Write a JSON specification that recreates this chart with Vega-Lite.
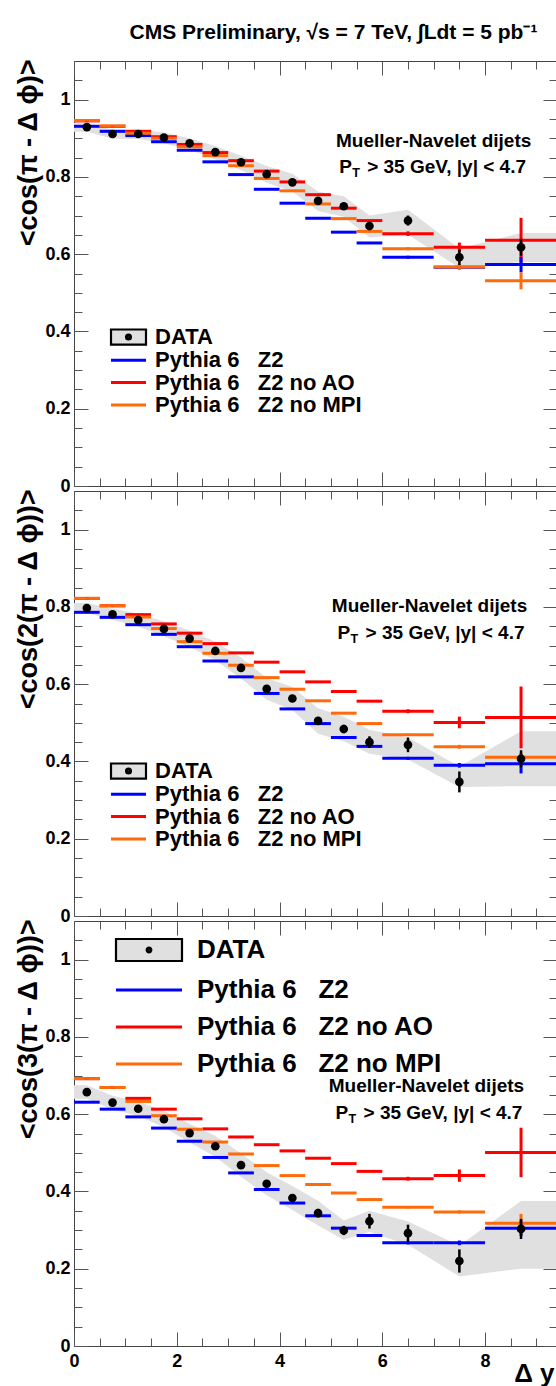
{
  "$schema": "https://vega.github.io/schema/vega-lite/v6.json",
  "padding": {"left": 13, "top": 21, "right": 0, "bottom": 0},
  "background": "white",
  "config": {
    "view": {"stroke": "#444444", "strokeWidth": 1},
    "axis": {"grid": false, "domain": false, "tickColor": "#555555", "tickWidth": 1, "labelFont": "Liberation Sans", "labelFontWeight": "bold", "labelFontSize": 18, "labelColor": "black", "titleFont": "Liberation Sans", "titleFontWeight": "bold", "titleColor": "black", "labelFlush": false},
    "legend": {"labelFont": "Liberation Sans", "labelFontWeight": "bold", "labelColor": "black", "symbolType": "stroke", "padding": 0, "labelLimit": 0}
  },
  "datasets": {
    "band1": [{"x":0,"lo":0.917,"hi":0.940},{"x":0.25,"lo":0.917,"hi":0.940},{"x":0.75,"lo":0.899,"hi":0.922},{"x":1.25,"lo":0.898,"hi":0.923},{"x":1.75,"lo":0.887,"hi":0.915},{"x":2.25,"lo":0.870,"hi":0.900},{"x":2.75,"lo":0.845,"hi":0.880},{"x":3.25,"lo":0.818,"hi":0.855},{"x":3.75,"lo":0.785,"hi":0.828},{"x":4.25,"lo":0.762,"hi":0.808},{"x":4.75,"lo":0.712,"hi":0.762},{"x":5.25,"lo":0.697,"hi":0.750},{"x":5.75,"lo":0.643,"hi":0.700},{"x":6.5,"lo":0.650,"hi":0.715},{"x":7.5,"lo":0.565,"hi":0.615},{"x":8.7,"lo":0.580,"hi":0.655},{"x":9.4,"lo":0.580,"hi":0.655}],
    "band2": [{"x":0,"lo":0.785,"hi":0.810},{"x":0.25,"lo":0.785,"hi":0.810},{"x":0.75,"lo":0.766,"hi":0.796},{"x":1.25,"lo":0.749,"hi":0.783},{"x":1.75,"lo":0.724,"hi":0.762},{"x":2.25,"lo":0.697,"hi":0.739},{"x":2.75,"lo":0.662,"hi":0.710},{"x":3.25,"lo":0.615,"hi":0.669},{"x":3.75,"lo":0.560,"hi":0.616},{"x":4.25,"lo":0.533,"hi":0.593},{"x":4.75,"lo":0.472,"hi":0.538},{"x":5.25,"lo":0.452,"hi":0.516},{"x":5.75,"lo":0.420,"hi":0.482},{"x":6.5,"lo":0.405,"hi":0.462},{"x":7.5,"lo":0.334,"hi":0.387},{"x":8.7,"lo":0.336,"hi":0.478},{"x":9.4,"lo":0.336,"hi":0.478}],
    "band3": [{"x":0,"lo":0.640,"hi":0.675},{"x":0.25,"lo":0.640,"hi":0.675},{"x":0.75,"lo":0.612,"hi":0.648},{"x":1.25,"lo":0.595,"hi":0.633},{"x":1.75,"lo":0.566,"hi":0.608},{"x":2.25,"lo":0.527,"hi":0.575},{"x":2.75,"lo":0.490,"hi":0.544},{"x":3.25,"lo":0.438,"hi":0.498},{"x":3.75,"lo":0.390,"hi":0.450},{"x":4.25,"lo":0.352,"hi":0.414},{"x":4.75,"lo":0.312,"hi":0.376},{"x":5.25,"lo":0.275,"hi":0.325},{"x":5.75,"lo":0.295,"hi":0.350},{"x":6.5,"lo":0.262,"hi":0.322},{"x":7.5,"lo":0.180,"hi":0.260},{"x":8.7,"lo":0.200,"hi":0.375},{"x":9.4,"lo":0.200,"hi":0.375}],
    "data1": [{"x":0.25,"y":0.929,"lo":0.925,"hi":0.933},{"x":0.75,"y":0.911,"lo":0.907,"hi":0.915},{"x":1.25,"y":0.911,"lo":0.907,"hi":0.915},{"x":1.75,"y":0.902,"lo":0.898,"hi":0.906},{"x":2.25,"y":0.887,"lo":0.882,"hi":0.892},{"x":2.75,"y":0.864,"lo":0.859,"hi":0.869},{"x":3.25,"y":0.838,"lo":0.832,"hi":0.844},{"x":3.75,"y":0.807,"lo":0.801,"hi":0.813},{"x":4.25,"y":0.786,"lo":0.779,"hi":0.793},{"x":4.75,"y":0.738,"lo":0.730,"hi":0.746},{"x":5.25,"y":0.724,"lo":0.715,"hi":0.733},{"x":5.75,"y":0.673,"lo":0.662,"hi":0.684},{"x":6.5,"y":0.687,"lo":0.674,"hi":0.700},{"x":7.5,"y":0.592,"lo":0.572,"hi":0.612},{"x":8.7,"y":0.618,"lo":0.596,"hi":0.640}],
    "data2": [{"x":0.25,"y":0.797,"lo":0.793,"hi":0.801},{"x":0.75,"y":0.781,"lo":0.777,"hi":0.785},{"x":1.25,"y":0.766,"lo":0.761,"hi":0.771},{"x":1.75,"y":0.743,"lo":0.738,"hi":0.748},{"x":2.25,"y":0.718,"lo":0.712,"hi":0.724},{"x":2.75,"y":0.686,"lo":0.680,"hi":0.692},{"x":3.25,"y":0.642,"lo":0.635,"hi":0.649},{"x":3.75,"y":0.588,"lo":0.580,"hi":0.596},{"x":4.25,"y":0.563,"lo":0.554,"hi":0.572},{"x":4.75,"y":0.505,"lo":0.495,"hi":0.515},{"x":5.25,"y":0.484,"lo":0.473,"hi":0.495},{"x":5.75,"y":0.450,"lo":0.435,"hi":0.465},{"x":6.5,"y":0.443,"lo":0.424,"hi":0.462},{"x":7.5,"y":0.347,"lo":0.320,"hi":0.374},{"x":8.7,"y":0.407,"lo":0.385,"hi":0.429}],
    "data3": [{"x":0.25,"y":0.657,"lo":0.652,"hi":0.662},{"x":0.75,"y":0.630,"lo":0.625,"hi":0.635},{"x":1.25,"y":0.614,"lo":0.609,"hi":0.619},{"x":1.75,"y":0.587,"lo":0.581,"hi":0.593},{"x":2.25,"y":0.551,"lo":0.545,"hi":0.557},{"x":2.75,"y":0.517,"lo":0.510,"hi":0.524},{"x":3.25,"y":0.468,"lo":0.460,"hi":0.476},{"x":3.75,"y":0.420,"lo":0.411,"hi":0.429},{"x":4.25,"y":0.383,"lo":0.373,"hi":0.393},{"x":4.75,"y":0.344,"lo":0.333,"hi":0.355},{"x":5.25,"y":0.299,"lo":0.287,"hi":0.311},{"x":5.75,"y":0.323,"lo":0.304,"hi":0.342},{"x":6.5,"y":0.292,"lo":0.270,"hi":0.314},{"x":7.5,"y":0.220,"lo":0.190,"hi":0.250},{"x":8.7,"y":0.303,"lo":0.277,"hi":0.329}],
    "mc1": [
      {"m":"noAO","a":0,"b":0.5,"c":0.25,"y":0.945,"lo":0.943,"hi":0.947},{"m":"noAO","a":0.5,"b":1,"c":0.75,"y":0.931,"lo":0.929,"hi":0.933},{"m":"noAO","a":1,"b":1.5,"c":1.25,"y":0.918,"lo":0.916,"hi":0.920},{"m":"noAO","a":1.5,"b":2,"c":1.75,"y":0.904,"lo":0.902,"hi":0.906},{"m":"noAO","a":2,"b":2.5,"c":2.25,"y":0.884,"lo":0.882,"hi":0.886},{"m":"noAO","a":2.5,"b":3,"c":2.75,"y":0.863,"lo":0.861,"hi":0.865},{"m":"noAO","a":3,"b":3.5,"c":3.25,"y":0.842,"lo":0.840,"hi":0.844},{"m":"noAO","a":3.5,"b":4,"c":3.75,"y":0.815,"lo":0.813,"hi":0.817},{"m":"noAO","a":4,"b":4.5,"c":4.25,"y":0.787,"lo":0.785,"hi":0.789},{"m":"noAO","a":4.5,"b":5,"c":4.75,"y":0.754,"lo":0.752,"hi":0.756},{"m":"noAO","a":5,"b":5.5,"c":5.25,"y":0.719,"lo":0.717,"hi":0.721},{"m":"noAO","a":5.5,"b":6,"c":5.75,"y":0.687,"lo":0.685,"hi":0.689},{"m":"noAO","a":6,"b":7,"c":6.5,"y":0.653,"lo":0.647,"hi":0.659},{"m":"noAO","a":7,"b":8,"c":7.5,"y":0.618,"lo":0.606,"hi":0.630},{"m":"noAO","a":8,"b":9.4,"c":8.7,"y":0.636,"lo":0.578,"hi":0.694},
      {"m":"Z2","a":0,"b":0.5,"c":0.25,"y":0.931,"lo":0.929,"hi":0.933},{"m":"Z2","a":0.5,"b":1,"c":0.75,"y":0.918,"lo":0.916,"hi":0.920},{"m":"Z2","a":1,"b":1.5,"c":1.25,"y":0.907,"lo":0.905,"hi":0.909},{"m":"Z2","a":1.5,"b":2,"c":1.75,"y":0.891,"lo":0.889,"hi":0.893},{"m":"Z2","a":2,"b":2.5,"c":2.25,"y":0.869,"lo":0.867,"hi":0.871},{"m":"Z2","a":2.5,"b":3,"c":2.75,"y":0.839,"lo":0.837,"hi":0.841},{"m":"Z2","a":3,"b":3.5,"c":3.25,"y":0.806,"lo":0.804,"hi":0.808},{"m":"Z2","a":3.5,"b":4,"c":3.75,"y":0.768,"lo":0.766,"hi":0.770},{"m":"Z2","a":4,"b":4.5,"c":4.25,"y":0.732,"lo":0.730,"hi":0.734},{"m":"Z2","a":4.5,"b":5,"c":4.75,"y":0.693,"lo":0.691,"hi":0.695},{"m":"Z2","a":5,"b":5.5,"c":5.25,"y":0.657,"lo":0.655,"hi":0.659},{"m":"Z2","a":5.5,"b":6,"c":5.75,"y":0.629,"lo":0.627,"hi":0.631},{"m":"Z2","a":6,"b":7,"c":6.5,"y":0.592,"lo":0.588,"hi":0.596},{"m":"Z2","a":7,"b":8,"c":7.5,"y":0.566,"lo":0.560,"hi":0.572},{"m":"Z2","a":8,"b":9.4,"c":8.7,"y":0.573,"lo":0.553,"hi":0.593},
      {"m":"noMPI","a":0,"b":0.5,"c":0.25,"y":0.946,"lo":0.944,"hi":0.948},{"m":"noMPI","a":0.5,"b":1,"c":0.75,"y":0.932,"lo":0.930,"hi":0.934},{"m":"noMPI","a":1,"b":1.5,"c":1.25,"y":0.913,"lo":0.911,"hi":0.915},{"m":"noMPI","a":1.5,"b":2,"c":1.75,"y":0.900,"lo":0.898,"hi":0.902},{"m":"noMPI","a":2,"b":2.5,"c":2.25,"y":0.878,"lo":0.876,"hi":0.880},{"m":"noMPI","a":2.5,"b":3,"c":2.75,"y":0.855,"lo":0.853,"hi":0.857},{"m":"noMPI","a":3,"b":3.5,"c":3.25,"y":0.829,"lo":0.827,"hi":0.831},{"m":"noMPI","a":3.5,"b":4,"c":3.75,"y":0.796,"lo":0.794,"hi":0.798},{"m":"noMPI","a":4,"b":4.5,"c":4.25,"y":0.764,"lo":0.762,"hi":0.766},{"m":"noMPI","a":4.5,"b":5,"c":4.75,"y":0.730,"lo":0.728,"hi":0.732},{"m":"noMPI","a":5,"b":5.5,"c":5.25,"y":0.692,"lo":0.690,"hi":0.694},{"m":"noMPI","a":5.5,"b":6,"c":5.75,"y":0.659,"lo":0.657,"hi":0.661},{"m":"noMPI","a":6,"b":7,"c":6.5,"y":0.614,"lo":0.610,"hi":0.618},{"m":"noMPI","a":7,"b":8,"c":7.5,"y":0.567,"lo":0.559,"hi":0.575},{"m":"noMPI","a":8,"b":9.4,"c":8.7,"y":0.531,"lo":0.509,"hi":0.553}
    ],
    "mc2": [
      {"m":"noAO","a":0,"b":0.5,"c":0.25,"y":0.822,"lo":0.820,"hi":0.824},{"m":"noAO","a":0.5,"b":1,"c":0.75,"y":0.803,"lo":0.801,"hi":0.805},{"m":"noAO","a":1,"b":1.5,"c":1.25,"y":0.780,"lo":0.778,"hi":0.782},{"m":"noAO","a":1.5,"b":2,"c":1.75,"y":0.756,"lo":0.754,"hi":0.758},{"m":"noAO","a":2,"b":2.5,"c":2.25,"y":0.732,"lo":0.730,"hi":0.734},{"m":"noAO","a":2.5,"b":3,"c":2.75,"y":0.705,"lo":0.703,"hi":0.707},{"m":"noAO","a":3,"b":3.5,"c":3.25,"y":0.681,"lo":0.679,"hi":0.683},{"m":"noAO","a":3.5,"b":4,"c":3.75,"y":0.657,"lo":0.655,"hi":0.659},{"m":"noAO","a":4,"b":4.5,"c":4.25,"y":0.632,"lo":0.630,"hi":0.634},{"m":"noAO","a":4.5,"b":5,"c":4.75,"y":0.606,"lo":0.604,"hi":0.608},{"m":"noAO","a":5,"b":5.5,"c":5.25,"y":0.581,"lo":0.579,"hi":0.583},{"m":"noAO","a":5.5,"b":6,"c":5.75,"y":0.556,"lo":0.554,"hi":0.558},{"m":"noAO","a":6,"b":7,"c":6.5,"y":0.530,"lo":0.525,"hi":0.535},{"m":"noAO","a":7,"b":8,"c":7.5,"y":0.501,"lo":0.486,"hi":0.516},{"m":"noAO","a":8,"b":9.4,"c":8.7,"y":0.514,"lo":0.434,"hi":0.594},
      {"m":"Z2","a":0,"b":0.5,"c":0.25,"y":0.786,"lo":0.784,"hi":0.788},{"m":"Z2","a":0.5,"b":1,"c":0.75,"y":0.773,"lo":0.771,"hi":0.775},{"m":"Z2","a":1,"b":1.5,"c":1.25,"y":0.754,"lo":0.752,"hi":0.756},{"m":"Z2","a":1.5,"b":2,"c":1.75,"y":0.729,"lo":0.727,"hi":0.731},{"m":"Z2","a":2,"b":2.5,"c":2.25,"y":0.697,"lo":0.695,"hi":0.699},{"m":"Z2","a":2.5,"b":3,"c":2.75,"y":0.660,"lo":0.658,"hi":0.662},{"m":"Z2","a":3,"b":3.5,"c":3.25,"y":0.619,"lo":0.617,"hi":0.621},{"m":"Z2","a":3.5,"b":4,"c":3.75,"y":0.576,"lo":0.574,"hi":0.578},{"m":"Z2","a":4,"b":4.5,"c":4.25,"y":0.536,"lo":0.534,"hi":0.538},{"m":"Z2","a":4.5,"b":5,"c":4.75,"y":0.498,"lo":0.496,"hi":0.500},{"m":"Z2","a":5,"b":5.5,"c":5.25,"y":0.462,"lo":0.460,"hi":0.464},{"m":"Z2","a":5.5,"b":6,"c":5.75,"y":0.439,"lo":0.437,"hi":0.441},{"m":"Z2","a":6,"b":7,"c":6.5,"y":0.408,"lo":0.404,"hi":0.412},{"m":"Z2","a":7,"b":8,"c":7.5,"y":0.390,"lo":0.384,"hi":0.396},{"m":"Z2","a":8,"b":9.4,"c":8.7,"y":0.394,"lo":0.369,"hi":0.419},
      {"m":"noMPI","a":0,"b":0.5,"c":0.25,"y":0.822,"lo":0.820,"hi":0.824},{"m":"noMPI","a":0.5,"b":1,"c":0.75,"y":0.803,"lo":0.801,"hi":0.805},{"m":"noMPI","a":1,"b":1.5,"c":1.25,"y":0.774,"lo":0.772,"hi":0.776},{"m":"noMPI","a":1.5,"b":2,"c":1.75,"y":0.744,"lo":0.742,"hi":0.746},{"m":"noMPI","a":2,"b":2.5,"c":2.25,"y":0.710,"lo":0.708,"hi":0.712},{"m":"noMPI","a":2.5,"b":3,"c":2.75,"y":0.680,"lo":0.678,"hi":0.682},{"m":"noMPI","a":3,"b":3.5,"c":3.25,"y":0.649,"lo":0.647,"hi":0.651},{"m":"noMPI","a":3.5,"b":4,"c":3.75,"y":0.617,"lo":0.615,"hi":0.619},{"m":"noMPI","a":4,"b":4.5,"c":4.25,"y":0.587,"lo":0.585,"hi":0.589},{"m":"noMPI","a":4.5,"b":5,"c":4.75,"y":0.557,"lo":0.555,"hi":0.559},{"m":"noMPI","a":5,"b":5.5,"c":5.25,"y":0.525,"lo":0.523,"hi":0.527},{"m":"noMPI","a":5.5,"b":6,"c":5.75,"y":0.498,"lo":0.496,"hi":0.500},{"m":"noMPI","a":6,"b":7,"c":6.5,"y":0.469,"lo":0.466,"hi":0.472},{"m":"noMPI","a":7,"b":8,"c":7.5,"y":0.438,"lo":0.433,"hi":0.443},{"m":"noMPI","a":8,"b":9.4,"c":8.7,"y":0.411,"lo":0.399,"hi":0.423}
    ],
    "mc3": [
      {"m":"noAO","a":0,"b":0.5,"c":0.25,"y":0.692,"lo":0.690,"hi":0.694},{"m":"noAO","a":0.5,"b":1,"c":0.75,"y":0.669,"lo":0.667,"hi":0.671},{"m":"noAO","a":1,"b":1.5,"c":1.25,"y":0.641,"lo":0.639,"hi":0.643},{"m":"noAO","a":1.5,"b":2,"c":1.75,"y":0.613,"lo":0.611,"hi":0.615},{"m":"noAO","a":2,"b":2.5,"c":2.25,"y":0.588,"lo":0.586,"hi":0.590},{"m":"noAO","a":2.5,"b":3,"c":2.75,"y":0.562,"lo":0.560,"hi":0.564},{"m":"noAO","a":3,"b":3.5,"c":3.25,"y":0.541,"lo":0.539,"hi":0.543},{"m":"noAO","a":3.5,"b":4,"c":3.75,"y":0.521,"lo":0.519,"hi":0.523},{"m":"noAO","a":4,"b":4.5,"c":4.25,"y":0.505,"lo":0.503,"hi":0.507},{"m":"noAO","a":4.5,"b":5,"c":4.75,"y":0.486,"lo":0.484,"hi":0.488},{"m":"noAO","a":5,"b":5.5,"c":5.25,"y":0.472,"lo":0.470,"hi":0.474},{"m":"noAO","a":5.5,"b":6,"c":5.75,"y":0.452,"lo":0.450,"hi":0.454},{"m":"noAO","a":6,"b":7,"c":6.5,"y":0.433,"lo":0.428,"hi":0.438},{"m":"noAO","a":7,"b":8,"c":7.5,"y":0.441,"lo":0.425,"hi":0.457},{"m":"noAO","a":8,"b":9.4,"c":8.7,"y":0.501,"lo":0.437,"hi":0.565},
      {"m":"Z2","a":0,"b":0.5,"c":0.25,"y":0.631,"lo":0.629,"hi":0.633},{"m":"Z2","a":0.5,"b":1,"c":0.75,"y":0.613,"lo":0.611,"hi":0.615},{"m":"Z2","a":1,"b":1.5,"c":1.25,"y":0.593,"lo":0.591,"hi":0.595},{"m":"Z2","a":1.5,"b":2,"c":1.75,"y":0.564,"lo":0.562,"hi":0.566},{"m":"Z2","a":2,"b":2.5,"c":2.25,"y":0.530,"lo":0.528,"hi":0.532},{"m":"Z2","a":2.5,"b":3,"c":2.75,"y":0.488,"lo":0.486,"hi":0.490},{"m":"Z2","a":3,"b":3.5,"c":3.25,"y":0.448,"lo":0.446,"hi":0.450},{"m":"Z2","a":3.5,"b":4,"c":3.75,"y":0.405,"lo":0.403,"hi":0.407},{"m":"Z2","a":4,"b":4.5,"c":4.25,"y":0.370,"lo":0.368,"hi":0.372},{"m":"Z2","a":4.5,"b":5,"c":4.75,"y":0.337,"lo":0.335,"hi":0.339},{"m":"Z2","a":5,"b":5.5,"c":5.25,"y":0.305,"lo":0.303,"hi":0.307},{"m":"Z2","a":5.5,"b":6,"c":5.75,"y":0.286,"lo":0.284,"hi":0.288},{"m":"Z2","a":6,"b":7,"c":6.5,"y":0.267,"lo":0.263,"hi":0.271},{"m":"Z2","a":7,"b":8,"c":7.5,"y":0.267,"lo":0.261,"hi":0.273},{"m":"Z2","a":8,"b":9.4,"c":8.7,"y":0.305,"lo":0.285,"hi":0.325},
      {"m":"noMPI","a":0,"b":0.5,"c":0.25,"y":0.692,"lo":0.690,"hi":0.694},{"m":"noMPI","a":0.5,"b":1,"c":0.75,"y":0.669,"lo":0.667,"hi":0.671},{"m":"noMPI","a":1,"b":1.5,"c":1.25,"y":0.633,"lo":0.631,"hi":0.635},{"m":"noMPI","a":1.5,"b":2,"c":1.75,"y":0.596,"lo":0.594,"hi":0.598},{"m":"noMPI","a":2,"b":2.5,"c":2.25,"y":0.561,"lo":0.559,"hi":0.563},{"m":"noMPI","a":2.5,"b":3,"c":2.75,"y":0.528,"lo":0.526,"hi":0.530},{"m":"noMPI","a":3,"b":3.5,"c":3.25,"y":0.497,"lo":0.495,"hi":0.499},{"m":"noMPI","a":3.5,"b":4,"c":3.75,"y":0.467,"lo":0.465,"hi":0.469},{"m":"noMPI","a":4,"b":4.5,"c":4.25,"y":0.441,"lo":0.439,"hi":0.443},{"m":"noMPI","a":4.5,"b":5,"c":4.75,"y":0.418,"lo":0.416,"hi":0.420},{"m":"noMPI","a":5,"b":5.5,"c":5.25,"y":0.396,"lo":0.394,"hi":0.398},{"m":"noMPI","a":5.5,"b":6,"c":5.75,"y":0.379,"lo":0.377,"hi":0.381},{"m":"noMPI","a":6,"b":7,"c":6.5,"y":0.359,"lo":0.356,"hi":0.362},{"m":"noMPI","a":7,"b":8,"c":7.5,"y":0.347,"lo":0.343,"hi":0.351},{"m":"noMPI","a":8,"b":9.4,"c":8.7,"y":0.318,"lo":0.294,"hi":0.342}
    ]
  },
  "bounds": "flush",
  "spacing": 5,
  "resolve": {"scale": {"color": "independent"}, "legend": {"color": "independent"}},
  "vconcat": [
    {
      "width": 483, "height": 425,
      "title": {"text": "CMS Preliminary, √s = 7 TeV, ∫Ldt = 5 pb⁻¹", "font": "Liberation Sans", "fontSize": 21, "fontWeight": "bold", "color": "black", "anchor": "middle", "dx": 18, "offset": 16, "frame": "group"},
      "resolve": {"axis": {"x": "independent", "y": "independent"}},
      "layer": [
        {"data": {"name": "band1"}, "mark": {"type": "area", "color": "#e0e0e0", "opacity": 1},
         "encoding": {
           "x": {"field": "x", "type": "quantitative", "scale": {"domain": [0, 9.4], "nice": false, "zero": false}, "axis": null},
           "y": {"field": "lo", "type": "quantitative", "scale": {"domain": [0, 1.1], "nice": false, "zero": false},
                 "axis": {"orient": "left", "values": [0,0.2,0.4,0.6,0.8,1], "format": "~g", "ticks": false, "labelPadding": 4, "title": "<cos(π - Δ ϕ)>", "titleFontSize": 27, "titleAngle": 270, "titleX": -38, "titleY": -2, "titleAlign": "right", "titleBaseline": "alphabetic"}},
           "y2": {"field": "hi"}}},
        {"data": {"name": "mc1"}, "mark": {"type": "rule", "strokeWidth": 3},
         "encoding": {
           "x": {"field": "a", "type": "quantitative", "axis": {"orient": "bottom", "values": [0,2,4,6,8], "labels": false, "tickSize": -14, "title": null}},
           "x2": {"field": "b"},
           "y": {"field": "y", "type": "quantitative", "axis": {"orient": "left", "values": [0,0.2,0.4,0.6,0.8,1], "labels": false, "tickSize": -14, "title": null}},
           "color": {"field": "m", "type": "nominal", "scale": {"domain": ["DATA","Z2","noAO","noMPI"], "range": ["#000000","#0000ff","#ff0000","#ff6a0a"]},
             "legend": {"orient": "none", "legendX": 43.5, "legendY": 265, "title": null, "symbolType": "stroke", "symbolSize": 1225, "symbolStrokeWidth": 3, "labelFontSize": 22, "labelOffset": 15.5, "rowPadding": 0.3,
               "labelExpr": "datum.value === 'Z2' ? 'Pythia 6\u00a0\u00a0 Z2' : datum.value === 'noAO' ? 'Pythia 6\u00a0\u00a0 Z2 no AO' : datum.value === 'noMPI' ? 'Pythia 6\u00a0\u00a0 Z2 no MPI' : 'DATA'",
               "encode": {"symbols": {"update": {
                 "shape": {"signal": "datum.value === 'DATA' ? 'M-1,-0.43H1V0.43H-1Z M-0.14,0A0.14,0.14 0 1,0 0.14,0A0.14,0.14 0 1,0 -0.14,0Z M-0.05,0A0.05,0.05 0 1,0 0.05,0A0.05,0.05 0 1,0 -0.05,0Z' : 'stroke'"},
                 "fill": {"signal": "datum.value === 'DATA' ? '#e0e0e0' : 'transparent'"},
                 "strokeWidth": {"signal": "datum.value === 'DATA' ? 2.2 : 3"}}}}}}}},
        {"data": {"name": "mc1"}, "mark": {"type": "rule", "strokeWidth": 3},
         "encoding": {
           "x": {"field": "c", "type": "quantitative", "axis": {"orient": "bottom", "values": [0.5,1,1.5,2.5,3,3.5,4.5,5,5.5,6.5,7,7.5,8.5,9], "labels": false, "tickSize": -8, "title": null}},
           "y": {"field": "lo", "type": "quantitative", "axis": {"orient": "left", "values": [0.05,0.1,0.15,0.25,0.3,0.35,0.45,0.5,0.55,0.65,0.7,0.75,0.85,0.9,0.95,1.05], "labels": false, "tickSize": -8, "title": null}},
           "y2": {"field": "hi"},
           "color": {"field": "m", "type": "nominal", "legend": null}}},
        {"data": {"name": "data1"}, "mark": {"type": "rule", "strokeWidth": 2.5, "color": "black"},
         "encoding": {
           "x": {"field": "x", "type": "quantitative", "axis": {"orient": "top", "values": [0,2,4,6,8], "labels": false, "tickSize": -14, "title": null}},
           "y": {"field": "lo", "type": "quantitative", "axis": {"orient": "right", "values": [0,0.2,0.4,0.6,0.8,1], "labels": false, "tickSize": -14, "title": null}},
           "y2": {"field": "hi"}}},
        {"data": {"name": "data1"}, "mark": {"type": "circle", "size": 75, "color": "black", "opacity": 1},
         "encoding": {
           "x": {"field": "x", "type": "quantitative", "axis": {"orient": "top", "values": [0.5,1,1.5,2.5,3,3.5,4.5,5,5.5,6.5,7,7.5,8.5,9], "labels": false, "tickSize": -8, "title": null}},
           "y": {"field": "y", "type": "quantitative", "axis": {"orient": "right", "values": [0.05,0.1,0.15,0.25,0.3,0.35,0.45,0.5,0.55,0.65,0.7,0.75,0.85,0.9,0.95,1.05], "labels": false, "tickSize": -8, "title": null}}}},
        {"data": {"values": [{"t": "Mueller-Navelet dijets"}]}, "mark": {"type": "text", "align": "right", "baseline": "middle", "font": "Liberation Sans", "fontSize": 19, "fontWeight": "bold", "color": "black"},
         "encoding": {"x": {"datum": 8.9, "type": "quantitative", "axis": null}, "y": {"datum": 0.893, "type": "quantitative", "axis": null}, "text": {"field": "t"}}},
        {"data": {"values": [{"t": "P"}]}, "mark": {"type": "text", "align": "left", "baseline": "middle", "font": "Liberation Sans", "fontSize": 19, "fontWeight": "bold", "color": "black"},
         "encoding": {"x": {"datum": 5.16, "type": "quantitative", "axis": null}, "y": {"datum": 0.825, "type": "quantitative", "axis": null}, "text": {"field": "t"}}},
        {"data": {"values": [{"t": "T"}]}, "mark": {"type": "text", "align": "left", "baseline": "middle", "font": "Liberation Sans", "fontSize": 12.5, "fontWeight": "bold", "color": "black", "dx": 13, "dy": 6},
         "encoding": {"x": {"datum": 5.16, "type": "quantitative", "axis": null}, "y": {"datum": 0.825, "type": "quantitative", "axis": null}, "text": {"field": "t"}}},
        {"data": {"values": [{"t": "> 35 GeV, |y| < 4.7"}]}, "mark": {"type": "text", "align": "left", "baseline": "middle", "font": "Liberation Sans", "fontSize": 19, "fontWeight": "bold", "color": "black", "dx": 28},
         "encoding": {"x": {"datum": 5.16, "type": "quantitative", "axis": null}, "y": {"datum": 0.825, "type": "quantitative", "axis": null}, "text": {"field": "t"}}}
      ]
    },
    {
      "width": 483, "height": 425,
      "resolve": {"axis": {"x": "independent", "y": "independent"}},
      "layer": [
        {"data": {"name": "band2"}, "mark": {"type": "area", "color": "#e0e0e0", "opacity": 1},
         "encoding": {
           "x": {"field": "x", "type": "quantitative", "scale": {"domain": [0, 9.4], "nice": false, "zero": false}, "axis": null},
           "y": {"field": "lo", "type": "quantitative", "scale": {"domain": [0, 1.1], "nice": false, "zero": false},
                 "axis": {"orient": "left", "values": [0,0.2,0.4,0.6,0.8,1], "format": "~g", "ticks": false, "labelPadding": 4, "title": "<cos(2(π - Δ ϕ))>", "titleFontSize": 27, "titleAngle": 270, "titleX": -38, "titleY": -2, "titleAlign": "right", "titleBaseline": "alphabetic"}},
           "y2": {"field": "hi"}}},
        {"data": {"name": "mc2"}, "mark": {"type": "rule", "strokeWidth": 3},
         "encoding": {
           "x": {"field": "a", "type": "quantitative", "axis": {"orient": "bottom", "values": [0,2,4,6,8], "labels": false, "tickSize": -14, "title": null}},
           "x2": {"field": "b"},
           "y": {"field": "y", "type": "quantitative", "axis": {"orient": "left", "values": [0,0.2,0.4,0.6,0.8,1], "labels": false, "tickSize": -14, "title": null}},
           "color": {"field": "m", "type": "nominal", "scale": {"domain": ["DATA","Z2","noAO","noMPI"], "range": ["#000000","#0000ff","#ff0000","#ff6a0a"]},
             "legend": {"orient": "none", "legendX": 43.5, "legendY": 269, "title": null, "symbolType": "stroke", "symbolSize": 1225, "symbolStrokeWidth": 3, "labelFontSize": 22, "labelOffset": 15.5, "rowPadding": 0.3,
               "labelExpr": "datum.value === 'Z2' ? 'Pythia 6\u00a0\u00a0 Z2' : datum.value === 'noAO' ? 'Pythia 6\u00a0\u00a0 Z2 no AO' : datum.value === 'noMPI' ? 'Pythia 6\u00a0\u00a0 Z2 no MPI' : 'DATA'",
               "encode": {"symbols": {"update": {
                 "shape": {"signal": "datum.value === 'DATA' ? 'M-1,-0.43H1V0.43H-1Z M-0.14,0A0.14,0.14 0 1,0 0.14,0A0.14,0.14 0 1,0 -0.14,0Z M-0.05,0A0.05,0.05 0 1,0 0.05,0A0.05,0.05 0 1,0 -0.05,0Z' : 'stroke'"},
                 "fill": {"signal": "datum.value === 'DATA' ? '#e0e0e0' : 'transparent'"},
                 "strokeWidth": {"signal": "datum.value === 'DATA' ? 2.2 : 3"}}}}}}}},
        {"data": {"name": "mc2"}, "mark": {"type": "rule", "strokeWidth": 3},
         "encoding": {
           "x": {"field": "c", "type": "quantitative", "axis": {"orient": "bottom", "values": [0.5,1,1.5,2.5,3,3.5,4.5,5,5.5,6.5,7,7.5,8.5,9], "labels": false, "tickSize": -8, "title": null}},
           "y": {"field": "lo", "type": "quantitative", "axis": {"orient": "left", "values": [0.05,0.1,0.15,0.25,0.3,0.35,0.45,0.5,0.55,0.65,0.7,0.75,0.85,0.9,0.95,1.05], "labels": false, "tickSize": -8, "title": null}},
           "y2": {"field": "hi"},
           "color": {"field": "m", "type": "nominal", "legend": null}}},
        {"data": {"name": "data2"}, "mark": {"type": "rule", "strokeWidth": 2.5, "color": "black"},
         "encoding": {
           "x": {"field": "x", "type": "quantitative", "axis": {"orient": "top", "values": [0,2,4,6,8], "labels": false, "tickSize": -14, "title": null}},
           "y": {"field": "lo", "type": "quantitative", "axis": {"orient": "right", "values": [0,0.2,0.4,0.6,0.8,1], "labels": false, "tickSize": -14, "title": null}},
           "y2": {"field": "hi"}}},
        {"data": {"name": "data2"}, "mark": {"type": "circle", "size": 75, "color": "black", "opacity": 1},
         "encoding": {
           "x": {"field": "x", "type": "quantitative", "axis": {"orient": "top", "values": [0.5,1,1.5,2.5,3,3.5,4.5,5,5.5,6.5,7,7.5,8.5,9], "labels": false, "tickSize": -8, "title": null}},
           "y": {"field": "y", "type": "quantitative", "axis": {"orient": "right", "values": [0.05,0.1,0.15,0.25,0.3,0.35,0.45,0.5,0.55,0.65,0.7,0.75,0.85,0.9,0.95,1.05], "labels": false, "tickSize": -8, "title": null}}}},
        {"data": {"values": [{"t": "Mueller-Navelet dijets"}]}, "mark": {"type": "text", "align": "right", "baseline": "middle", "font": "Liberation Sans", "fontSize": 19, "fontWeight": "bold", "color": "black"},
         "encoding": {"x": {"datum": 8.82, "type": "quantitative", "axis": null}, "y": {"datum": 0.802, "type": "quantitative", "axis": null}, "text": {"field": "t"}}},
        {"data": {"values": [{"t": "P"}]}, "mark": {"type": "text", "align": "left", "baseline": "middle", "font": "Liberation Sans", "fontSize": 19, "fontWeight": "bold", "color": "black"},
         "encoding": {"x": {"datum": 5.13, "type": "quantitative", "axis": null}, "y": {"datum": 0.732, "type": "quantitative", "axis": null}, "text": {"field": "t"}}},
        {"data": {"values": [{"t": "T"}]}, "mark": {"type": "text", "align": "left", "baseline": "middle", "font": "Liberation Sans", "fontSize": 12.5, "fontWeight": "bold", "color": "black", "dx": 13, "dy": 6},
         "encoding": {"x": {"datum": 5.13, "type": "quantitative", "axis": null}, "y": {"datum": 0.732, "type": "quantitative", "axis": null}, "text": {"field": "t"}}},
        {"data": {"values": [{"t": "> 35 GeV, |y| < 4.7"}]}, "mark": {"type": "text", "align": "left", "baseline": "middle", "font": "Liberation Sans", "fontSize": 19, "fontWeight": "bold", "color": "black", "dx": 28},
         "encoding": {"x": {"datum": 5.13, "type": "quantitative", "axis": null}, "y": {"datum": 0.732, "type": "quantitative", "axis": null}, "text": {"field": "t"}}}
      ]
    },
    {
      "width": 483, "height": 425,
      "resolve": {"axis": {"x": "independent", "y": "independent"}},
      "layer": [
        {"data": {"name": "band3"}, "mark": {"type": "area", "color": "#e0e0e0", "opacity": 1},
         "encoding": {
           "x": {"field": "x", "type": "quantitative", "scale": {"domain": [0, 9.4], "nice": false, "zero": false},
                 "axis": {"orient": "bottom", "values": [0,2,4,6,8], "format": "~g", "ticks": false, "labelPadding": 6, "title": "Δ y", "titleFontSize": 26, "titleAnchor": "end", "titleAlign": "right", "titleX": 480, "titleY": 35, "titleBaseline": "alphabetic"}},
           "y": {"field": "lo", "type": "quantitative", "scale": {"domain": [0, 1.1], "nice": false, "zero": false},
                 "axis": {"orient": "left", "values": [0,0.2,0.4,0.6,0.8,1], "format": "~g", "ticks": false, "labelPadding": 4, "title": "<cos(3(π - Δ ϕ))>", "titleFontSize": 27, "titleAngle": 270, "titleX": -38, "titleY": -2, "titleAlign": "right", "titleBaseline": "alphabetic"}},
           "y2": {"field": "hi"}}},
        {"data": {"name": "mc3"}, "mark": {"type": "rule", "strokeWidth": 3},
         "encoding": {
           "x": {"field": "a", "type": "quantitative", "axis": {"orient": "bottom", "values": [0,2,4,6,8], "labels": false, "tickSize": -14, "title": null}},
           "x2": {"field": "b"},
           "y": {"field": "y", "type": "quantitative", "axis": {"orient": "left", "values": [0,0.2,0.4,0.6,0.8,1], "labels": false, "tickSize": -14, "title": null}},
           "color": {"field": "m", "type": "nominal", "scale": {"domain": ["DATA","Z2","noAO","noMPI"], "range": ["#000000","#0000ff","#ff0000","#ff6a0a"]},
             "legend": {"orient": "none", "legendX": 62, "legendY": 16, "title": null, "symbolType": "stroke", "symbolSize": 4356, "symbolStrokeWidth": 3, "labelFontSize": 26, "labelOffset": 35, "rowPadding": 11,
               "labelExpr": "datum.value === 'Z2' ? 'Pythia 6\u00a0\u00a0 Z2' : datum.value === 'noAO' ? 'Pythia 6\u00a0\u00a0 Z2 no AO' : datum.value === 'noMPI' ? 'Pythia 6\u00a0\u00a0 Z2 no MPI' : 'DATA'",
               "encode": {"symbols": {"update": {
                 "shape": {"signal": "datum.value === 'DATA' ? 'M-1,-0.333H1V0.333H-1Z M-0.07,0A0.07,0.07 0 1,0 0.07,0A0.07,0.07 0 1,0 -0.07,0Z M-0.025,0A0.025,0.025 0 1,0 0.025,0A0.025,0.025 0 1,0 -0.025,0Z' : 'stroke'"},
                 "fill": {"signal": "datum.value === 'DATA' ? '#e0e0e0' : 'transparent'"},
                 "strokeWidth": {"signal": "datum.value === 'DATA' ? 2.2 : 3"}}}}}}}},
        {"data": {"name": "mc3"}, "mark": {"type": "rule", "strokeWidth": 3},
         "encoding": {
           "x": {"field": "c", "type": "quantitative", "axis": {"orient": "bottom", "values": [0.5,1,1.5,2.5,3,3.5,4.5,5,5.5,6.5,7,7.5,8.5,9], "labels": false, "tickSize": -8, "title": null}},
           "y": {"field": "lo", "type": "quantitative", "axis": {"orient": "left", "values": [0.05,0.1,0.15,0.25,0.3,0.35,0.45,0.5,0.55,0.65,0.7,0.75,0.85,0.9,0.95,1.05], "labels": false, "tickSize": -8, "title": null}},
           "y2": {"field": "hi"},
           "color": {"field": "m", "type": "nominal", "legend": null}}},
        {"data": {"name": "data3"}, "mark": {"type": "rule", "strokeWidth": 2.5, "color": "black"},
         "encoding": {
           "x": {"field": "x", "type": "quantitative", "axis": {"orient": "top", "values": [0,2,4,6,8], "labels": false, "tickSize": -14, "title": null}},
           "y": {"field": "lo", "type": "quantitative", "axis": {"orient": "right", "values": [0,0.2,0.4,0.6,0.8,1], "labels": false, "tickSize": -14, "title": null}},
           "y2": {"field": "hi"}}},
        {"data": {"name": "data3"}, "mark": {"type": "circle", "size": 75, "color": "black", "opacity": 1},
         "encoding": {
           "x": {"field": "x", "type": "quantitative", "axis": {"orient": "top", "values": [0.5,1,1.5,2.5,3,3.5,4.5,5,5.5,6.5,7,7.5,8.5,9], "labels": false, "tickSize": -8, "title": null}},
           "y": {"field": "y", "type": "quantitative", "axis": {"orient": "right", "values": [0.05,0.1,0.15,0.25,0.3,0.35,0.45,0.5,0.55,0.65,0.7,0.75,0.85,0.9,0.95,1.05], "labels": false, "tickSize": -8, "title": null}}}},
        {"data": {"values": [{"t": "Mueller-Navelet dijets"}]}, "mark": {"type": "text", "align": "right", "baseline": "middle", "font": "Liberation Sans", "fontSize": 19, "fontWeight": "bold", "color": "black"},
         "encoding": {"x": {"datum": 8.76, "type": "quantitative", "axis": null}, "y": {"datum": 0.673, "type": "quantitative", "axis": null}, "text": {"field": "t"}}},
        {"data": {"values": [{"t": "P"}]}, "mark": {"type": "text", "align": "left", "baseline": "middle", "font": "Liberation Sans", "fontSize": 19, "fontWeight": "bold", "color": "black"},
         "encoding": {"x": {"datum": 5.09, "type": "quantitative", "axis": null}, "y": {"datum": 0.603, "type": "quantitative", "axis": null}, "text": {"field": "t"}}},
        {"data": {"values": [{"t": "T"}]}, "mark": {"type": "text", "align": "left", "baseline": "middle", "font": "Liberation Sans", "fontSize": 12.5, "fontWeight": "bold", "color": "black", "dx": 13, "dy": 6},
         "encoding": {"x": {"datum": 5.09, "type": "quantitative", "axis": null}, "y": {"datum": 0.603, "type": "quantitative", "axis": null}, "text": {"field": "t"}}},
        {"data": {"values": [{"t": "> 35 GeV, |y| < 4.7"}]}, "mark": {"type": "text", "align": "left", "baseline": "middle", "font": "Liberation Sans", "fontSize": 19, "fontWeight": "bold", "color": "black", "dx": 28},
         "encoding": {"x": {"datum": 5.09, "type": "quantitative", "axis": null}, "y": {"datum": 0.603, "type": "quantitative", "axis": null}, "text": {"field": "t"}}}
      ]
    }
  ]
}
